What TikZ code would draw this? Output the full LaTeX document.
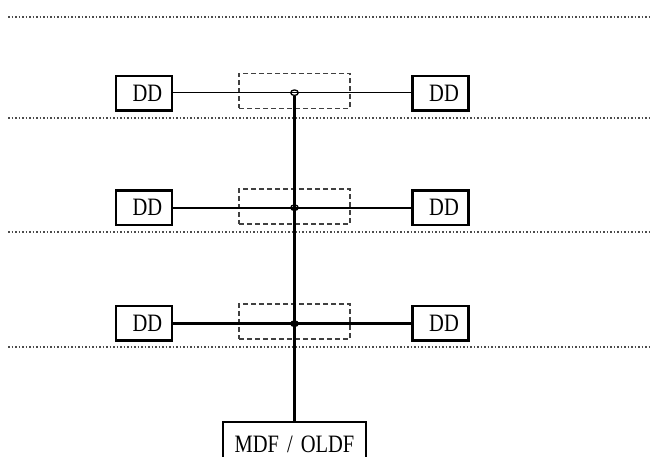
\documentclass[tikz,border=0pt]{standalone}
\usepackage{fontspec}
\usetikzlibrary{shapes.geometric}
\setmainfont{Liberation Serif}
\newfontfamily\narrowserif[FakeStretch=0.82]{Liberation Serif}
\begin{document}
\begin{tikzpicture}[x=1pt,y=-1pt,
  ddbox/.style={draw,line width=2.3pt,minimum width=56pt,minimum height=34.5pt,inner sep=0pt,font=\narrowserif\fontsize{25}{25}\selectfont},
  dashbox/.style={draw=black!75,line width=1.8pt,dash pattern=on 5pt off 3pt,minimum width=111pt,minimum height=35pt,inner sep=0pt},
  sepline/.style={draw=black!70,line width=1.8pt,dash pattern=on 1.5pt off 2pt},
  junc/.style={ellipse,draw,line width=1.3pt,inner sep=0pt,minimum width=7.5pt,minimum height=5.5pt},
  mainbox/.style={draw,line width=2.3pt,minimum width=143pt,minimum height=44.5pt,inner sep=0pt,text height=17pt,text depth=0pt,anchor=north,font=\narrowserif\fontsize{25}{25}\selectfont}
]
\useasboundingbox (0,0) rectangle (651,457);
\clip (0,0) rectangle (651,457);
% separator lines
\foreach \yy/\nm in {17/s0,118/s1,232/s2,347/s3}{
  \coordinate (\nm a) at (8,\yy);
  \coordinate (\nm b) at (651,\yy);
  \draw[sepline] (\nm a) -- (\nm b);
}
% dashed boxes
\node[dashbox] (D1) at (294.5,91) {};
\node[dashbox] (D2) at (294.5,206.5) {};
\node[dashbox] (D3) at (294.5,321.5) {};
% DD boxes
\node[ddbox] (L1) at (144,93.3) {\hspace*{7pt}DD};
\node[ddbox] (R1) at (440.5,93.3) {\hspace*{7pt}DD};
\node[ddbox] (L2) at (144,207.8) {\hspace*{7pt}DD};
\node[ddbox] (R2) at (440.5,207.8) {\hspace*{7pt}DD};
\node[ddbox] (L3) at (144,323.3) {\hspace*{7pt}DD};
\node[ddbox] (R3) at (440.5,323.3) {\hspace*{7pt}DD};
% bottom box
\node[mainbox] (M) at (294.5,421) {MDF\hspace{8pt}/\hspace{8pt}OLDF};
% junctions
\coordinate (J1) at (294.5,92.7);
\coordinate (J2) at (294.5,207.7);
\coordinate (J3) at (294.5,323.7);
% horizontal connectors
\draw[line width=1pt] (L1.east |- J1) -- (R1.west |- J1);
\draw[line width=1.7pt] (L2.east |- J2) -- (R2.west |- J2);
\draw[line width=2.5pt] (L3.east |- J3) -- (R3.west |- J3);
% vertical trunk
\draw[line width=3.2pt] ([yshift=-3pt]J1) -- (M.north);
% junction circles
\node[junc] (C1) at (J1) {};
\node[junc] (C2) at (J2) {};
\node[junc] (C3) at (J3) {};
\end{tikzpicture}
\end{document}
